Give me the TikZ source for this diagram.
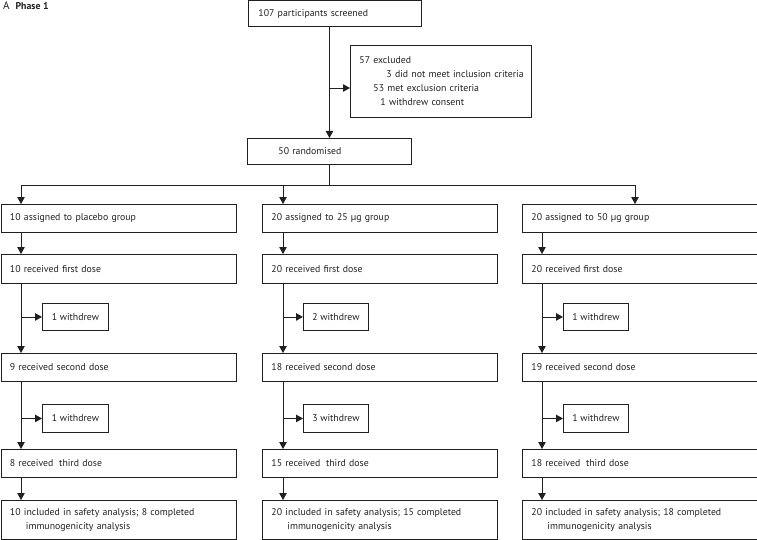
\documentclass[tikz,border=0pt]{standalone}
\usepackage{fontspec}
\setmainfont{PT Sans}
\usetikzlibrary{arrows.meta}
\definecolor{ln}{HTML}{231F20}
\begin{document}
\begin{tikzpicture}[x=1pt,y=-1pt,
  every node/.style={font=\fontsize{9.8}{14}\selectfont, text=ln},
  box/.style={draw=ln, line width=0.9pt, inner xsep=9pt, inner ysep=0pt, align=left, anchor=north west},
  col/.style={box, text width=217pt, minimum height=28pt},
  wbox/.style={draw=ln, line width=0.9pt, inner sep=0pt, align=center, anchor=north west, minimum width=65pt, minimum height=27pt},
  arr/.style={draw=ln, line width=0.9pt, -{Triangle[width=7.5pt,length=7pt]}},
  ln/.style={draw=ln, line width=0.9pt}]
\useasboundingbox (0,0) rectangle (757,540);
% title
\node[anchor=base west, inner sep=0pt] (title) at (3,10) {{\fontsize{11}{12}\selectfont A}\hspace{6pt}\textbf{Phase 1}};
% top
\node[box, text width=153pt, inner xsep=10pt, minimum height=26pt] (scr) at (248,0.5) {107 participants screened};
\node[box, text width=163pt, minimum height=72pt] (exc) at (350,45) {\mbox{57 excluded}\\\mbox{\hspace*{27pt}3 did not meet inclusion criteria}\\\mbox{\hspace*{14pt}53 met exclusion criteria}\\\mbox{\hspace*{21pt}1 withdrew consent}};
\node[box, text width=146pt, minimum height=26pt] (rnd) at (247,138) {\hspace*{22pt}50 randomised};
% columns
\node[col] (gL) at (0.5,204) {10 assigned to placebo group};
\node[col] (gM) at (262,204) {20 assigned to 25 µg group};
\node[col] (gR) at (522,204) {20 assigned to 50 µg group};
\node[col, minimum height=29pt] (fL) at (0.5,254) {10 received first dose};
\node[col, minimum height=29pt] (fM) at (262,254) {20 received first dose};
\node[col, minimum height=29pt] (fR) at (522,254) {20 received first dose};
\node[wbox, minimum width=66pt] (w1L) at (42,303) {1 withdrew};
\node[wbox] (w1M) at (303,303) {2 withdrew};
\node[wbox] (w1R) at (563,303) {1 withdrew};
\node[col] (sL) at (0.5,353) {9 received second dose};
\node[col] (sM) at (262,353) {18 received second dose};
\node[col] (sR) at (522,353) {19 received second dose};
\node[wbox, minimum width=66pt, minimum height=28pt] (w2L) at (42,404) {1 withdrew};
\node[wbox, minimum height=28pt] (w2M) at (303,404) {3 withdrew};
\node[wbox, minimum height=28pt] (w2R) at (563,404) {1 withdrew};
\node[col] (tL) at (0.5,449) {8 received\hspace{2.5pt} third dose};
\node[col] (tM) at (262,449) {15 received\hspace{2.5pt} third dose};
\node[col] (tR) at (522,449) {18 received\hspace{2.5pt} third dose};
\node[col, minimum height=39pt] (aL) at (0.5,500) {10 included in safety analysis; 8 completed\\\hspace*{16pt}immunogenicity analysis};
\node[col, minimum height=39pt] (aM) at (262,500) {20 included in safety analysis; 15 completed\\\hspace*{16pt}immunogenicity analysis};
\node[col, minimum height=39pt] (aR) at (522,500) {20 included in safety analysis; 18 completed\\\hspace*{16pt}immunogenicity analysis};
% coordinates
\coordinate (b1) at (329,88);
\coordinate (hL) at (21,185);
\coordinate (hM) at (283,185);
\coordinate (hR) at (635,185);
\coordinate (cL) at (21,0);
\coordinate (cM) at (283,0);
\coordinate (cR) at (542,0);
% top connectors
\draw[arr] (scr.south -| rnd.north) -- (rnd.north);
\draw[arr] (b1) -- (b1 -| exc.west);
\draw[ln] (rnd.south) -- (rnd.south |- hL);
\draw[ln] (hL) -- (hR);
\draw[arr] (hL) -- (hL |- gL.north);
\draw[arr] (hM) -- (hM |- gM.north);
\draw[arr] (hR) -- (hR |- gR.north);
% column connectors
\foreach \c in {L,M,R}{
  \draw[arr] (g\c.south -| c\c) -- (f\c.north -| c\c);
  \draw[arr] (f\c.south -| c\c) -- (s\c.north -| c\c);
  \draw[arr] (w1\c.west -| c\c) -- (w1\c.west);
  \draw[arr] (s\c.south -| c\c) -- (t\c.north -| c\c);
  \draw[arr] (w2\c.west -| c\c) -- (w2\c.west);
  \draw[arr] (t\c.south -| c\c) -- (a\c.north -| c\c);
}
\end{tikzpicture}
\end{document}
